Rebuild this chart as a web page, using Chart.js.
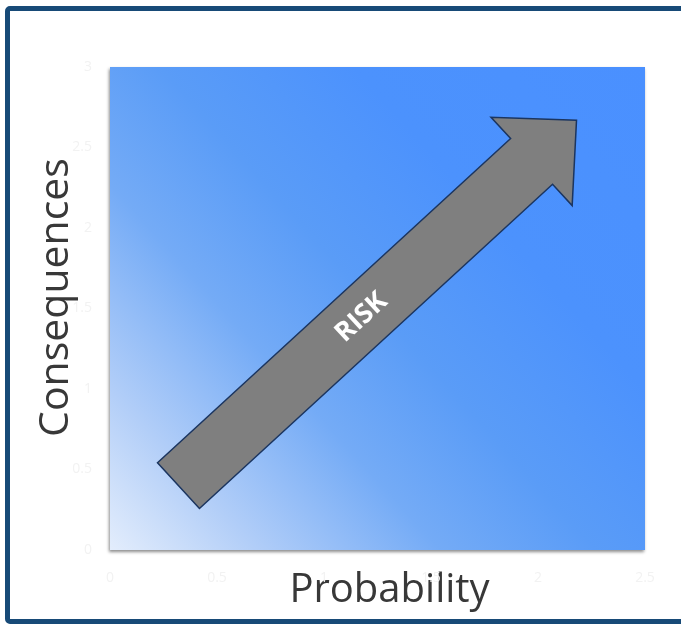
<!DOCTYPE html>
<html>
<head>
<meta charset="utf-8">
<script src="https://cdn.jsdelivr.net/npm/chart.js@4.4.0/dist/chart.umd.min.js"></script>
<style>
  html, body { margin: 0; padding: 0; background: #ffffff; }
  #wrap { position: relative; width: 681px; height: 628px; overflow: hidden; }
  #wrap canvas { position: absolute; left: 0; top: 0; }
  #frame {
    position: absolute; left: 5px; top: 6px; width: 700px; height: 618px;
    border: 5px solid #174a77; border-radius: 5px; box-sizing: border-box;
    pointer-events: none;
  }
</style>
</head>
<body>
<div id="wrap">
  <canvas id="chart" width="681" height="628"></canvas>
  <div id="frame"></div>
</div>
<script>
// Axis ticks
const xTickValues = [0, 0.5, 1, 1.5, 2, 2.5];
const yTickValues = [0, 0.5, 1, 1.5, 2, 2.5, 3];

// Axis titles
const xTitle = 'Probability';
const yTitle = 'Consequences';

// The risk arrow: from its tail (low probability, low consequences) to its tip
const riskLabel = 'RISK';
const riskPath = [
  { x: 0.32, y: 0.40 },
  { x: 2.18, y: 2.67 }
];

const TITLE_FONT = '"Open Sans", "DejaVu Sans", sans-serif';

// Diagonal light-to-blue fill behind the plot area, with a soft edge shadow
const plotBackground = {
  id: 'plotBackground',
  beforeDatasetsDraw(chart) {
    const { ctx, chartArea: { left, top, right, bottom } } = chart;
    const g = ctx.createLinearGradient(left, bottom, right, top);
    g.addColorStop(0.00, '#e3edfc');
    g.addColorStop(0.15, '#b2cef8');
    g.addColorStop(0.34, '#74abf6');
    g.addColorStop(0.50, '#5a9cf7');
    g.addColorStop(0.70, '#4c92fd');
    g.addColorStop(1.00, '#4a90ff');
    ctx.save();
    ctx.shadowColor = 'rgba(0,0,0,0.45)';
    ctx.shadowBlur = 3;
    ctx.shadowOffsetX = -1;
    ctx.shadowOffsetY = 2;
    ctx.fillStyle = g;
    ctx.fillRect(left, top, right - left, bottom - top);
    ctx.restore();
  }
};

// Block arrow drawn along the dataset's two points, with its label
const riskArrow = {
  id: 'riskArrow',
  afterDatasetsDraw(chart) {
    const meta = chart.getDatasetMeta(0);
    const a = meta.data[0], b = meta.data[1];
    if (!a || !b) return;
    const ctx = chart.ctx;
    const x0 = a.x, y0 = a.y, x1 = b.x, y1 = b.y;
    const dx = x1 - x0, dy = y1 - y0;
    const len = Math.hypot(dx, dy);
    const ux = dx / len, uy = dy / len;
    const nx = -uy, ny = ux;
    const shaftHalf = 31, headHalf = 60, headLen = 61;
    const bx = x1 - ux * headLen, by = y1 - uy * headLen;
    const pts = [
      [x0 + nx * shaftHalf, y0 + ny * shaftHalf],
      [bx + nx * shaftHalf, by + ny * shaftHalf],
      [bx + nx * headHalf, by + ny * headHalf],
      [x1, y1],
      [bx - nx * headHalf, by - ny * headHalf],
      [bx - nx * shaftHalf, by - ny * shaftHalf],
      [x0 - nx * shaftHalf, y0 - ny * shaftHalf]
    ];
    ctx.save();
    ctx.beginPath();
    pts.forEach((p, i) => (i ? ctx.lineTo(p[0], p[1]) : ctx.moveTo(p[0], p[1])));
    ctx.closePath();
    ctx.fillStyle = '#7f7f7f';
    ctx.fill();
    ctx.lineWidth = 1.5;
    ctx.lineJoin = 'miter';
    ctx.strokeStyle = '#1b3560';
    ctx.stroke();

    const t = 0.46;
    ctx.translate(x0 + dx * t, y0 + dy * t);
    ctx.rotate(Math.atan2(dy, dx));
    ctx.fillStyle = '#ffffff';
    ctx.font = 'bold 27px ' + TITLE_FONT;
    ctx.textAlign = 'center';
    ctx.textBaseline = 'middle';
    ctx.fillText(riskLabel, 0, 0);
    ctx.restore();
  }
};

const tickStyle = { size: 14, family: TITLE_FONT };
const tickText = v => String(v);

// Nudge an axis title off the plot centre by (dx, dy) pixels
function shiftTitle(scale, dx, dy) {
  if (scale._titleShifted) return;
  const draw = scale.drawTitle;
  scale.drawTitle = function () {
    this.ctx.save();
    this.ctx.translate(dx, dy);
    draw.call(this);
    this.ctx.restore();
  };
  scale._titleShifted = true;
}

new Chart(document.getElementById('chart'), {
  type: 'scatter',
  data: {
    datasets: [{
      label: riskLabel,
      data: riskPath,
      pointRadius: 0,
      pointHoverRadius: 0,
      showLine: false
    }]
  },
  options: {
    responsive: false,
    animation: false,
    devicePixelRatio: 1,
    layout: { padding: { left: 0, top: 67, right: 36, bottom: 0 } },
    plugins: {
      legend: { display: false },
      tooltip: { enabled: false }
    },
    scales: {
      x: {
        type: 'linear',
        min: xTickValues[0],
        max: xTickValues[xTickValues.length - 1],
        afterBuildTicks(scale) { scale.ticks = xTickValues.map(v => ({ value: v })); },
        afterFit(scale) { scale.height = 78; shiftTitle(scale, 12, 0); },
        grid: { display: false, drawTicks: false },
        border: { display: false },
        ticks: { color: '#f2f2f2', font: tickStyle, padding: 20, maxRotation: 0, callback: tickText },
        title: {
          display: true, text: xTitle, color: '#383838',
          font: { size: 40, family: TITLE_FONT },
          padding: { top: 0, bottom: 13 }
        }
      },
      y: {
        type: 'linear',
        min: yTickValues[0],
        max: yTickValues[yTickValues.length - 1],
        afterBuildTicks(scale) { scale.ticks = yTickValues.map(v => ({ value: v })); },
        afterFit(scale) { scale.width = 110; shiftTitle(scale, 0, -11); },
        grid: { display: false, drawTicks: false },
        border: { display: false },
        ticks: { color: '#f2f2f2', font: tickStyle, padding: 18, callback: tickText },
        title: {
          display: true, text: yTitle, color: '#383838',
          font: { size: 41, family: TITLE_FONT },
          padding: { top: 32, bottom: 0 }
        }
      }
    }
  },
  plugins: [plotBackground, riskArrow]
});
</script>
</body>
</html>
